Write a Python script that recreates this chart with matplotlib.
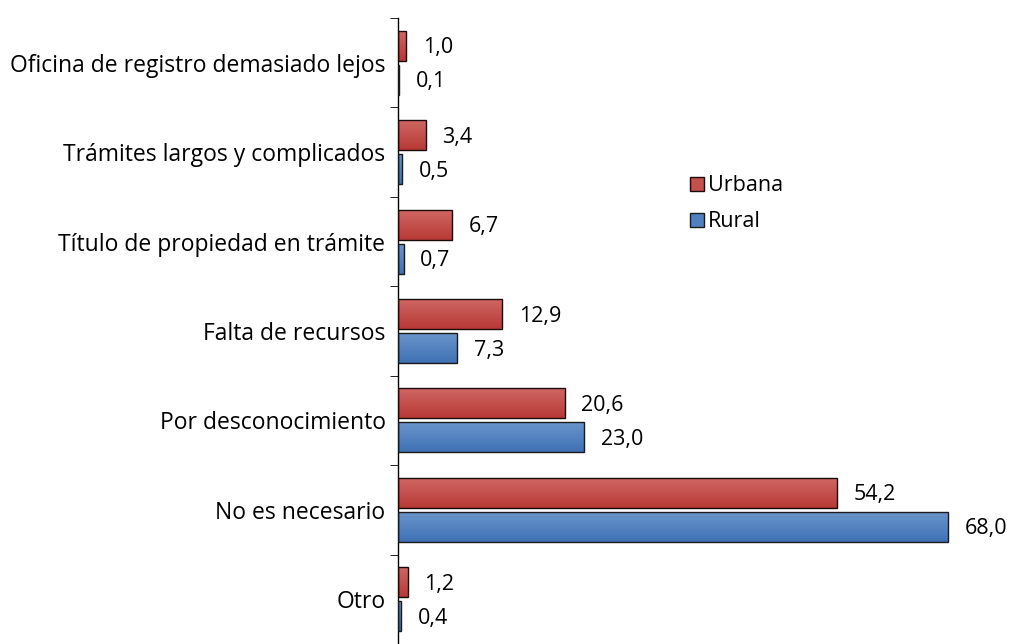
import matplotlib

matplotlib.use("Agg")
import matplotlib.pyplot as plt
import numpy as np
from matplotlib.colors import LinearSegmentedColormap
from matplotlib.patches import Patch

categories = [
    "Oficina de registro demasiado lejos",
    "Trámites largos y complicados",
    "Título de propiedad en trámite",
    "Falta de recursos",
    "Por desconocimiento",
    "No es necesario",
    "Otro",
]
urbana = [1.0, 3.4, 6.7, 12.9, 20.6, 54.2, 1.2]
rural = [0.1, 0.5, 0.7, 7.3, 23.0, 68.0, 0.4]

plt.rcParams["font.family"] = ["Open Sans", "DejaVu Sans"]

red_cmap = LinearSegmentedColormap.from_list("red", ["#cf6764", "#b83935"])
blue_cmap = LinearSegmentedColormap.from_list("blue", ["#6a95cb", "#3e71b4"])
grad = np.linspace(0, 1, 64).reshape(-1, 1)

fig = plt.figure(figsize=(10.1, 6.44), dpi=100)
ax = fig.add_axes([398 / 1010, 0.0, 607 / 1010, 626 / 644])

y = np.arange(len(categories))
h = 0.335
off = 0.19


def gradient_bars(ys, vals, cmap, edge):
    bars = ax.barh(ys, vals, height=h, facecolor="none", edgecolor=edge, linewidth=1.0, zorder=3)
    for bar in bars:
        x0, y0 = bar.get_x(), bar.get_y()
        w, hh = bar.get_width(), bar.get_height()
        im = ax.imshow(grad, extent=[x0, x0 + w, y0 + hh, y0], aspect="auto",
                       cmap=cmap, origin="upper", zorder=2, interpolation="bilinear")
        im.set_clip_path(bar)
    return bars


gradient_bars(y - off, urbana, red_cmap, "#1a0a0a")
gradient_bars(y + off, rural, blue_cmap, "#1a1a1a")

for yi, v in zip(y - off, urbana):
    ax.annotate(f"{v:.1f}".replace(".", ","), (v, yi), xytext=(12, -1.5), textcoords="offset points",
                ha="left", va="center", fontsize=15.5)
for yi, v in zip(y + off, rural):
    ax.annotate(f"{v:.1f}".replace(".", ","), (v, yi), xytext=(12, -1.5), textcoords="offset points",
                ha="left", va="center", fontsize=15.5)

ax.set_xlim(0, 75)
ax.set_ylim(len(categories) - 0.5, -0.5)
ax.set_yticks(y)
ax.set_yticklabels(categories, fontsize=16.5)
ax.set_yticks(np.arange(-0.5, len(categories)), minor=True)
ax.tick_params(axis="y", which="major", length=0, pad=9)
ax.tick_params(axis="y", which="minor", length=6, direction="out")
ax.set_xticks([])
for side in ("top", "right", "bottom"):
    ax.spines[side].set_visible(False)
ax.spines["left"].set_linewidth(1.0)

handles = [
    Patch(facecolor="#c4504c", edgecolor="#1a0a0a", label="Urbana"),
    Patch(facecolor="#5080c0", edgecolor="#1a1a1a", label="Rural"),
]
fig.legend(handles=handles, loc="upper left", bbox_to_anchor=(671 / 1010, 1 - 156 / 644),
           frameon=False, fontsize=15.5, handlelength=0.65, handleheight=0.65,
           handletextpad=0.15, labelspacing=0.7)

fig.savefig("out.png", dpi=100)
